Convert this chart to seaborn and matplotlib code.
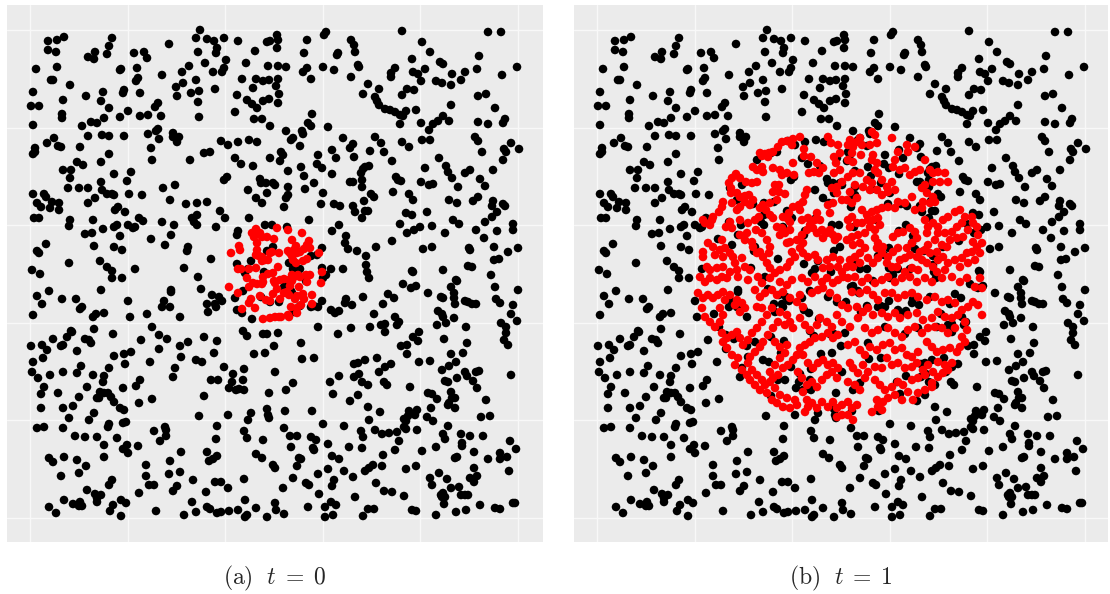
import numpy as np
import pandas as pd
import matplotlib
matplotlib.use("Agg")
import matplotlib.pyplot as plt
import seaborn as sns

# ---------------- data (plot units, y measured downward) ----------------
susceptible = [
(200,30),(48,41),(57,40),(64,37),(112,38),(169,44),(196,38),(207,39),(214,41),(224,38),(238,41),(267,42),(270,41),(277,35),(278,40),(277,48),
(48,50),(56,52),(109,46),(107,54),(95,52),(88,57),(94,59),(134,53),(144,52),(147,58),(198,52),(217,48),(216,53),(226,60),(255,51),(36,69),(57,67),
(120,70),(121,69),(137,68),(162,75),(182,72),(189,66),(205,63),(213,72),(222,72),(224,68),(246,63),(268,66),(278,66),(51,80),(53,80),(70,85),
(136,81),(138,78),(183,83),(176,87),(196,80),(242,79),(256,79),(263,81),(269,80),(276,86),(278,79),(33,92),(86,96),(103,92),(124,90),(123,93),
(140,93),(177,96),(191,93),(199,91),(215,89),(237,95),(253,88),(279,94),(31,106),(39,106),(63,100),(101,101),(158,103),(155,107),(198,102),
(247,100),(252,104),(257,108),(263,101),(269,99),(278,103),(109,108),(128,111),(62,114),(62,118),(104,118),(120,117),(140,116),(148,115),(161,116),
(199,117),(235,112),(254,119),(262,119),(33,125),(82,126),(91,122),(97,123),(158,129),(156,131),(270,126),(88,136),(102,135),(109,136),(124,136),
(148,134),(173,133),(173,137),(179,137),(177,142),(159,139),(47,143),(54,138),(58,146),(61,147),(80,147),(221,141),(228,145),(238,142),(249,140),
(257,142),(35,148),(35,152),(33,154),(151,148),(109,154),(204,153),(210,152),(235,158),(241,164),(253,166),(152,160),(190,160),(77,162),(83,165),
(101,162),(270,158),(280,161),(63,170),(71,170),(114,174),(131,172),(227,177),(224,180),(70,178),(260,179),(261,183),(266,183),(273,183),(275,185),
(101,182),(127,181),(68,188),(79,188),(88,188),(102,190),(163,188),(175,185),(248,190),(33,194),(44,194),(46,197),(107,194),(112,194),(114,195),
(129,194),(142,195),(267,193),(256,198),(262,203),(37,203),(41,207),(52,202),(59,203),(50,208),(59,210),(88,203),(95,198),(118,207),(115,210),
(125,212),(170,200),(186,204),(197,203),(207,202),(220,211),(197,215),(192,218),(194,222),(225,218),(249,218),(34,218),(39,218),(70,220),(69,226),
(93,220),(139,218),(143,221),(162,222),(117,225),(114,227),(128,225),(133,228),(135,227),(174,225),(197,225),(216,227),(103,229),(85,234),(92,233),
(120,236),(171,235),(151,239),(238,231),(237,235),(46,244),(94,246),(165,245),(188,247),(187,251),(114,247),(122,250),(37,251),(39,253),(211,259),
(69,263),(100,261),(32,270),(40,274),(107,267),(112,271),(135,269),(184,268),(112,278),(122,278),(198,277),
(265,225),(272,225),(287,227),(267,251),(273,247),(251,261),(237,264),(248,269),(245,273),(264,272),(289,263),(293,269),(300,269),(306,281),
(311,256),(270,302),(279,302),(286,286),(284,287),(291,291),(292,293),(300,306),(294,312),
(402,31),(488,32),(501,32),(326,32),(324,35),(307,40),(351,40),(354,45),(355,52),(422,42),(304,53),(338,53),(337,55),(430,52),(479,56),(412,59),
(440,62),(443,64),(286,67),(307,68),(303,72),(323,67),(334,70),(358,65),(359,67),(395,68),(391,73),(391,77),(413,72),(418,74),(425,69),(452,74),
(465,72),(477,69),(517,67),(502,75),(311,79),(351,77),(421,81),(436,81),(442,83),(451,85),(461,80),(368,84),(379,89),(407,89),(414,90),(363,94),
(402,95),(478,96),(486,94),(375,97),(377,101),(379,105),(385,109),(390,110),(395,112),(400,115),(403,116),(406,111),(416,110),(451,105),(495,108),
(312,114),(308,123),(311,126),(328,127),(400,124),(421,123),(433,124),(438,121),(443,116),(449,121),(478,122),(488,124),(503,123),(505,119),
(286,131),(302,131),(303,134),(293,138),(291,140),(429,130),(343,138),(375,137),(475,137),(478,141),(422,140),(430,140),(402,142),(381,143),
(300,146),(353,144),(350,148),(409,147),(511,143),(519,149),(332,150),(370,151),(384,152),(482,152),(504,149),(506,152),(281,152),(283,155),
(318,155),(336,158),(354,157),(439,158),(503,160),(392,161),(317,164),(322,168),(301,167),(365,167),(369,166),(363,169),(361,173),(425,168),
(446,166),(448,172),(452,178),(470,170),(465,173),(493,170),(288,171),(304,176),(332,174),(396,177),(398,180),(401,181),(480,179),(350,182),
(353,182),(362,180),(421,182),(429,185),(433,184),(314,183),(458,187),(485,186),(288,187),(362,187),(305,189),(393,192),(409,194),(323,193),
(288,195),(286,198),(371,194),(374,197),(449,200),(478,197),(473,201),(413,200),(321,204),(364,201),(334,204),(340,206),(457,203),(493,201),
(492,206),(503,204),(505,206),(497,212),(284,207),(353,206),(355,212),(365,211),(368,211),(362,218),(406,213),(412,215),(427,212),(309,220),
(453,220),(459,224),(485,222),(492,217),(513,224),(513,230),(400,224),(420,227),(414,230),(432,226),(339,225),(332,231),(407,233),(445,233),
(476,230),(497,231),(346,236),(484,238),(392,241),(345,243),(348,249),(357,251),(376,247),(423,249),(432,247),(469,248),(470,250),(494,247),
(518,248),(508,252),(322,248),(366,256),(499,259),(494,260),(366,265),(367,272),(331,269),(343,269),(412,271),(413,272),(443,270),(468,266),
(472,267),(491,275),(456,280),(322,268),(326,275),(323,278),(317,255),(369,278),
(49,291),(37,296),(42,304),(62,299),(76,299),(101,290),(82,307),(80,309),(33,315),(96,314),(93,317),(104,313),(128,301),(130,317),(147,314),
(171,290),(171,292),(164,301),(162,307),(170,307),(180,317),(201,289),(212,295),(219,297),(222,301),(215,304),(216,307),(207,304),(208,312),
(235,298),(237,310),(242,313),(252,319),(243,291),(261,297),(152,327),(71,331),(67,337),(72,332),(94,329),(113,334),(53,339),(85,339),(91,343),
(89,340),(63,345),(61,346),(42,345),(47,350),(31,346),(77,351),(141,340),(159,335),(167,339),(159,349),(180,346),(188,342),(204,337),(217,341),
(214,353),(243,331),(247,336),(263,334),(267,334),(274,346),(265,353),(254,354),(43,358),(33,362),(32,372),(38,378),(50,375),(63,372),(77,373),
(81,366),(93,375),(104,376),(103,382),(109,368),(114,356),(124,354),(131,352),(125,364),(150,362),(175,368),(173,377),(181,357),(196,360),
(202,362),(224,367),(244,369),(233,374),(211,380),(218,380),(232,382),(229,388),(236,390),(239,389),(244,390),(243,380),(275,372),(44,387),
(87,387),(140,380),(136,386),(41,394),(58,393),(79,397),(100,392),(104,393),(108,393),(111,397),(114,402),(99,398),(97,398),(123,388),(152,399),
(139,403),(204,396),(269,393),(41,408),(63,408),(73,406),(69,418),(94,413),(89,420),(120,408),(124,410),(123,423),(126,422),(108,427),(109,424),
(199,416),(228,415),(251,413),(248,420),(267,409),(268,415),(269,418),(37,428),(44,427),(63,428),(75,436),(85,437),(97,437),(117,438),(104,445),
(127,445),(123,449),(128,453),(138,446),(154,431),(165,427),(166,430),(166,436),(160,441),(217,426),(216,439),(244,431),(247,438),(263,440),
(181,452),(207,452),(217,456),(213,459),(209,461),(256,454),(262,458),(49,458),(53,462),(64,457),(77,460),(86,466),(79,473),(104,457),(146,465),
(170,461),(61,476),(146,476),(169,474),(180,472),(193,480),(244,479),(273,465),(275,468),(112,480),(109,485),(149,485),(154,485),(177,486),
(173,491),(215,482),(221,482),(228,488),(87,490),(95,494),(101,495),(97,498),(97,502),(139,493),(206,492),(64,500),(73,504),(80,502),(82,506),
(79,506),(121,500),(126,503),(113,505),(49,507),(56,513),(110,511),(121,516),(156,511),(192,502),(184,515),(196,512),(207,507),(210,509),
(217,513),(221,512),(229,511),(238,510),(245,500),(247,515),(245,517),(256,508),(267,517),(275,503),(276,510),
(403,284),(411,288),(416,286),(428,293),(457,281),(451,287),(454,293),(454,298),(455,304),(441,297),(443,298),(465,301),(468,302),(472,304),
(476,304),(495,287),(518,290),(496,299),(500,303),(513,305),(322,301),(318,307),(314,306),(311,307),(331,310),(335,313),(339,311),(346,299),
(345,303),(352,305),(363,297),(388,294),(394,298),(383,304),(374,314),(395,317),(399,322),(397,325),(438,311),(442,314),(443,317),(454,318),
(437,325),(446,323),(466,327),(511,314),(517,321),(501,323),(506,327),(506,333),(504,340),(508,345),(318,327),(351,328),(370,327),(381,325),
(385,324),(385,332),(338,334),(278,333),(419,332),(413,337),(418,341),(401,346),(407,345),(407,354),(444,339),(467,343),(301,343),(302,359),
(314,358),(451,354),(463,353),(419,362),(430,361),(456,362),(442,370),(449,366),(377,358),(354,364),(358,363),(365,360),(391,364),(385,367),
(379,372),(511,375),(339,376),(354,377),(359,374),(362,382),(368,385),(384,382),(387,385),(410,387),(330,382),(293,383),(445,381),(448,382),
(457,378),(465,372),(467,376),(476,372),(479,371),(473,381),(477,388),(286,390),(333,394),(358,395),(428,393),(432,394),(451,392),(452,398),
(437,399),(455,398),(486,400),(350,401),(368,407),(285,411),(312,411),(380,412),(409,411),(417,410),(415,415),(408,416),(404,419),(406,421),
(427,417),(431,408),(433,421),(448,405),(449,403),(455,408),(481,417),(490,416),(369,420),(323,424),(344,426),(284,428),(361,431),(363,437),
(375,430),(382,434),(389,433),(397,432),(404,427),(406,429),(417,430),(399,441),(448,426),(443,434),(445,439),(461,434),(462,443),(462,446),
(470,436),(483,436),(290,436),(297,436),(311,437),(316,440),(291,447),(313,448),(314,450),(328,444),(349,447),(362,448),(395,450),(422,451),
(436,447),(474,452),(510,441),(516,449),(299,458),(301,459),(332,456),(339,459),(383,455),(455,458),(457,457),(488,459),(500,453),(500,459),
(507,457),(297,466),(328,469),(344,471),(365,471),(369,468),(373,465),(382,466),(406,469),(416,466),(439,473),(474,468),(509,471),(293,478),
(318,474),(353,477),(334,480),(332,486),(306,483),(309,485),(283,488),(376,483),(430,478),(432,485),(447,479),(451,488),(470,478),(474,482),
(477,476),(459,487),(319,494),(355,497),(384,491),(392,492),(404,496),(441,495),(443,493),(445,497),(442,497),(461,495),(465,495),(468,495),
(444,504),(284,514),(308,507),(325,507),(325,517),(333,515),(331,502),(336,505),(363,516),(368,509),(374,509),(412,510),(416,511),(436,515),
(456,512),(466,510),(480,505),(495,508),(500,509),(513,503),(515,503),
]

infected_t0 = [
(256,229),(252,233),(254,237),(260,233),(262,237),(267,237),(274,239),(277,228),(288,230),(302,233),(309,241),(308,246),(310,248),(292,240),
(296,246),(294,250),(239,246),(240,250),(231,253),(257,243),(259,256),(262,257),(265,260),(270,253),(272,252),(279,253),(288,251),(290,253),
(292,256),(297,253),(300,252),(304,249),(307,245),(319,253),(257,250),(256,255),(238,269),(241,269),(249,269),(256,268),(247,278),(268,260),
(262,261),(278,267),(273,273),(268,274),(263,277),(293,260),(296,263),(303,261),(307,259),(298,275),(300,277),(306,275),(310,275),(322,272),
(321,283),(229,287),(238,293),(249,287),(253,283),(257,284),(262,284),(263,282),(274,281),(280,280),(275,283),(284,279),(289,280),(292,281),
(290,286),(294,277),(292,275),(307,282),(299,287),(297,296),(251,299),(249,303),(255,308),(242,309),(260,296),(266,300),(270,301),(273,294),
(277,289),(280,299),(284,293),(287,292),(289,295),(295,299),(303,294),(304,299),(312,295),(312,304),(291,307),(297,308),(301,305),(263,319),
(270,318),(275,317),(279,317),(281,317),(288,315),(289,317),(297,313),
]

infected_t1 = [
(233,137),(226,139),(225,145),(220,141),(215,142),(211,147),(237,149),(237,156),(206,152),(202,153),(198,154),(193,153),(195,156),(201,157),
(186,167),(190,170),(196,172),(195,167),(206,168),(213,170),(215,175),(220,173),(226,163),(227,175),(242,173),(247,172),(252,173),(256,168),
(250,163),(244,157),(261,137),(264,143),(271,145),(273,153),(267,157),(269,163),(267,173),(273,170),(275,182),(270,187),(265,188),(270,193),
(275,200),(266,203),(261,205),(263,213),(240,190),(238,195),(236,202),(232,205),(233,210),(226,207),(222,213),(221,219),(216,217),(223,222),
(235,220),(241,218),(243,225),(240,230),(235,235),(230,240),(236,243),(246,228),(250,233),(255,230),(256,238),(260,233),(263,230),(266,235),
(268,240),(271,237),(250,213),(248,220),(253,220),(208,185),(212,185),(206,192),(212,192),(218,194),(210,200),(203,203),(196,205),(193,208),
(199,210),(203,215),(206,218),(215,228),(213,235),(218,233),(223,230),(210,227),(190,182),(185,183),(179,182),(173,178),(169,174),(165,178),
(162,183),(164,188),(164,193),(170,193),(173,197),(178,196),(182,195),(186,200),(183,205),(178,202),(173,207),(170,210),(165,203),(156,202),
(155,207),(152,212),(146,217),(145,220),(138,223),(136,220),(143,225),(163,222),(159,227),(165,228),(173,220),(181,223),(188,220),(192,217),
(189,230),(195,233),(200,240),(203,247),(202,253),(196,257),(190,253),(186,247),(185,242),(180,233),(178,240),(173,235),(155,240),(158,248),
(153,250),(146,247),(141,243),(136,252),(136,257),(148,255),(156,257),(163,253),(166,257),(168,263),(175,258),(178,267),(183,270),(193,252),
(200,263),(203,268),(208,273),(213,270),(220,267),(223,262),(228,257),(225,252),(220,243),(223,242),(233,248),(236,253),(241,257),(248,255),
(251,260),(256,268),(263,267),(260,260),(266,257),(273,260),(271,267),(275,272),(143,270),(140,267),(150,268),(156,267),(163,272),(170,270),
(283,140),(281,145),(286,147),(290,142),(293,138),(295,145),(285,153),(281,160),(286,162),(294,155),(305,132),(308,135),(310,143),(303,145),
(306,155),(305,160),(310,163),(325,138),(340,145),(341,152),(348,147),(331,152),(328,160),(326,167),(333,170),(338,168),(343,175),(348,172),
(353,170),(358,160),(363,170),(366,173),(371,172),(378,173),(381,182),(373,182),(366,182),(358,185),(355,188),(360,193),(366,197),(368,202),
(363,203),(356,202),(281,177),(286,173),(293,173),(300,180),(305,183),(308,170),(311,173),(315,180),(320,187),(325,182),(328,190),(321,192),
(315,195),(310,190),(303,190),(296,187),(288,185),(283,192),(280,200),(285,203),(290,198),(295,210),(300,215),(305,212),(310,210),(315,208),
(321,207),(328,208),(331,202),(338,203),(345,197),(348,210),(355,208),(285,217),(281,220),(283,227),(290,223),(295,223),(301,220),(303,227),
(298,233),(291,235),(285,237),(280,240),(286,245),(293,243),(298,248),(293,253),(288,257),(283,260),(280,267),(286,267),(293,263),(306,220),
(311,218),(313,225),(308,230),(308,238),(311,243),(316,247),(310,248),(315,253),(311,258),(306,263),(301,258),(326,237),(331,233),(336,232),
(343,228),(348,232),(350,238),(345,243),(340,248),(331,248),(326,252),(321,257),(320,263),(325,267),(330,267),(333,260),(338,258),(343,255),
(350,257),(353,252),(358,220),(361,227),(360,233),(366,223),(371,227),(376,220),(381,217),(388,212),(393,210),(398,217),(395,223),(390,227),
(385,232),(378,233),(371,233),(368,240),(361,245),(358,250),(363,253),(370,252),(375,245),(380,247),(383,240),(390,238),(396,237),(401,230),
(406,223),(405,217),(410,227),(411,235),(406,242),(355,260),(360,263),(366,267),(371,260),(376,257),(381,263),(388,260),(395,258),(400,253),
(405,252),(410,247),(415,243),(413,253),(408,260),(401,263),(393,267),(378,270),(370,272),(351,270),(345,268),(338,272),
(133,277),(138,282),(143,278),(150,280),(155,277),(160,278),(171,277),(181,280),(191,277),(195,283),(203,278),(213,282),(220,285),(225,280),
(235,278),(241,282),(248,277),(255,282),(260,278),(266,283),(271,280),(276,277),(131,293),(136,298),(141,295),(146,298),(151,295),(156,292),
(158,300),(163,295),(170,300),(175,303),(178,308),(173,312),(168,305),(135,308),(138,317),(143,322),(148,327),(153,322),(156,315),(153,308),
(188,290),(193,297),(198,293),(205,290),(210,295),(216,292),(223,298),(230,302),(236,307),(233,295),(245,293),(251,290),(256,288),(263,293),
(270,298),(275,305),(190,307),(195,308),(200,315),(195,322),(190,328),(185,333),(181,340),(176,345),(173,338),(170,332),(165,335),(160,338),
(155,333),(156,342),(160,348),(165,355),(171,358),(168,365),(175,370),(180,375),(183,380),(188,385),(193,390),(200,393),(205,400),(210,403),
(216,407),(223,408),(230,405),(205,308),(213,312),(220,315),(223,322),(226,328),(218,325),(211,322),(206,328),(201,335),(196,342),(193,347),
(188,352),(183,357),(181,363),(185,370),(190,375),(195,380),(198,385),(203,382),(208,388),(213,395),(220,398),(228,400),(233,318),(238,325),
(243,330),(250,325),(253,318),(260,322),(265,327),(270,315),(275,322),(208,342),(213,347),(220,345),(218,353),(213,358),(208,365),(203,372),
(206,378),(211,375),(216,368),(221,365),(226,360),(230,355),(233,348),(238,345),(243,342),(248,338),(255,337),(261,333),(266,338),(271,335),
(236,355),(241,363),(246,368),(251,363),(256,360),(261,365),(266,363),(271,368),(231,372),(235,378),(240,385),(245,382),(250,387),(255,380),
(260,375),(265,372),(270,378),(236,392),(240,400),(245,403),(250,408),(255,402),(261,407),(266,402),(270,408),(275,405),(270,417),(275,415),
(238,412),(241,407),
(281,278),(288,277),(295,282),(301,278),(308,283),(315,280),(321,277),(328,282),(335,278),(343,277),(350,282),(358,278),(365,282),(375,278),
(385,277),(393,282),(400,278),(408,287),(413,278),(415,288),(285,292),(293,293),(300,290),(306,295),(311,300),(318,293),(325,293),(331,298),
(338,295),(345,293),(351,297),(360,300),(368,297),(375,302),(381,300),(388,303),(395,310),(401,307),(406,302),(411,305),(415,315),(281,308),
(290,307),(296,312),(301,308),(306,315),(315,313),(321,317),(328,313),(333,318),(341,315),(350,313),(356,320),(365,318),(371,312),(378,317),
(385,318),(391,315),(398,322),(283,327),(291,318),(298,328),(305,333),(311,330),(321,328),(328,333),(335,337),(341,330),(348,327),(355,333),
(361,328),(368,327),(375,328),(381,333),(388,328),(395,337),(398,342),(400,330),(281,345),(288,342),(293,350),(298,355),(303,347),(310,350),
(316,345),(323,343),(328,350),(335,348),(340,355),(345,357),(351,352),(360,342),(365,347),(370,352),(376,350),(383,348),(390,352),(393,347),
(283,363),(286,368),(291,373),(296,365),(301,372),(308,367),(315,368),(320,358),(325,365),(331,363),(338,368),(345,367),(350,363),(356,370),
(361,365),(366,372),(371,362),(378,365),(381,370),(385,363),(281,382),(288,385),(293,390),(298,378),(308,380),(313,385),(318,390),(325,387),
(331,382),(336,385),(345,380),(351,378),(358,375),(365,383),(371,377),(376,373),(281,402),(285,408),(290,405),(281,415),(286,420),(305,412),
(310,400),(316,402),(321,398),(328,395),(335,400),(341,392),(346,400),(351,393),(358,390),(365,387),(315,410),(311,407),
]

grid_breaks = [30.0, 127.6, 225.2, 322.8, 420.4, 518.0]
status_labels = ["susceptible", "infected"]
captions = [r"$\mathrm{(a)}\ \ t\;=\;0$", r"$\mathrm{(b)}\ \ t\;=\;1$"]


def frame(infected):
    s = pd.DataFrame(susceptible, columns=["x", "y"])
    s["status"] = status_labels[0]
    i = pd.DataFrame(infected, columns=["x", "y"])
    i["status"] = status_labels[1]
    return pd.concat([s, i], ignore_index=True)


sns.set_style("darkgrid", {"axes.facecolor": "#EBEBEB", "grid.color": "#F8F8F8"})
plt.rcParams["mathtext.fontset"] = "cm"

fig = plt.figure(figsize=(11.10, 5.94), dpi=100)
ax_a = fig.add_axes([7 / 1110, 52 / 594, 536 / 1110, 537 / 594])
ax_b = fig.add_axes([574 / 1110, 52 / 594, 534 / 1110, 537 / 594])

palette = {status_labels[0]: "#000000", status_labels[1]: "#FF0000"}
for ax, infected, cap, xmax in [(ax_a, infected_t0, captions[0], 543), (ax_b, infected_t1, captions[1], 541)]:
    df = frame(infected)
    sns.scatterplot(data=df, x="x", y="y", hue="status", palette=palette, s=38,
                    linewidth=0, edgecolor="none", legend=False, ax=ax, zorder=3)
    ax.set_xlim(7, xmax)
    ax.set_ylim(542, 5)
    ax.set_xticks(grid_breaks)
    ax.set_yticks(grid_breaks)
    ax.grid(True, color="#F8F8F8", linewidth=1.0)
    ax.tick_params(length=0, labelbottom=False, labelleft=False)
    ax.set_xlabel("")
    ax.set_ylabel("")
    for sp in ax.spines.values():
        sp.set_visible(False)
    pos = ax.get_position()
    fig.text((pos.x0 + pos.x1) / 2, 1 - 578 / 594, cap, ha="center", va="center", fontsize=17)

fig.savefig("out.png", dpi=100, facecolor="white")
